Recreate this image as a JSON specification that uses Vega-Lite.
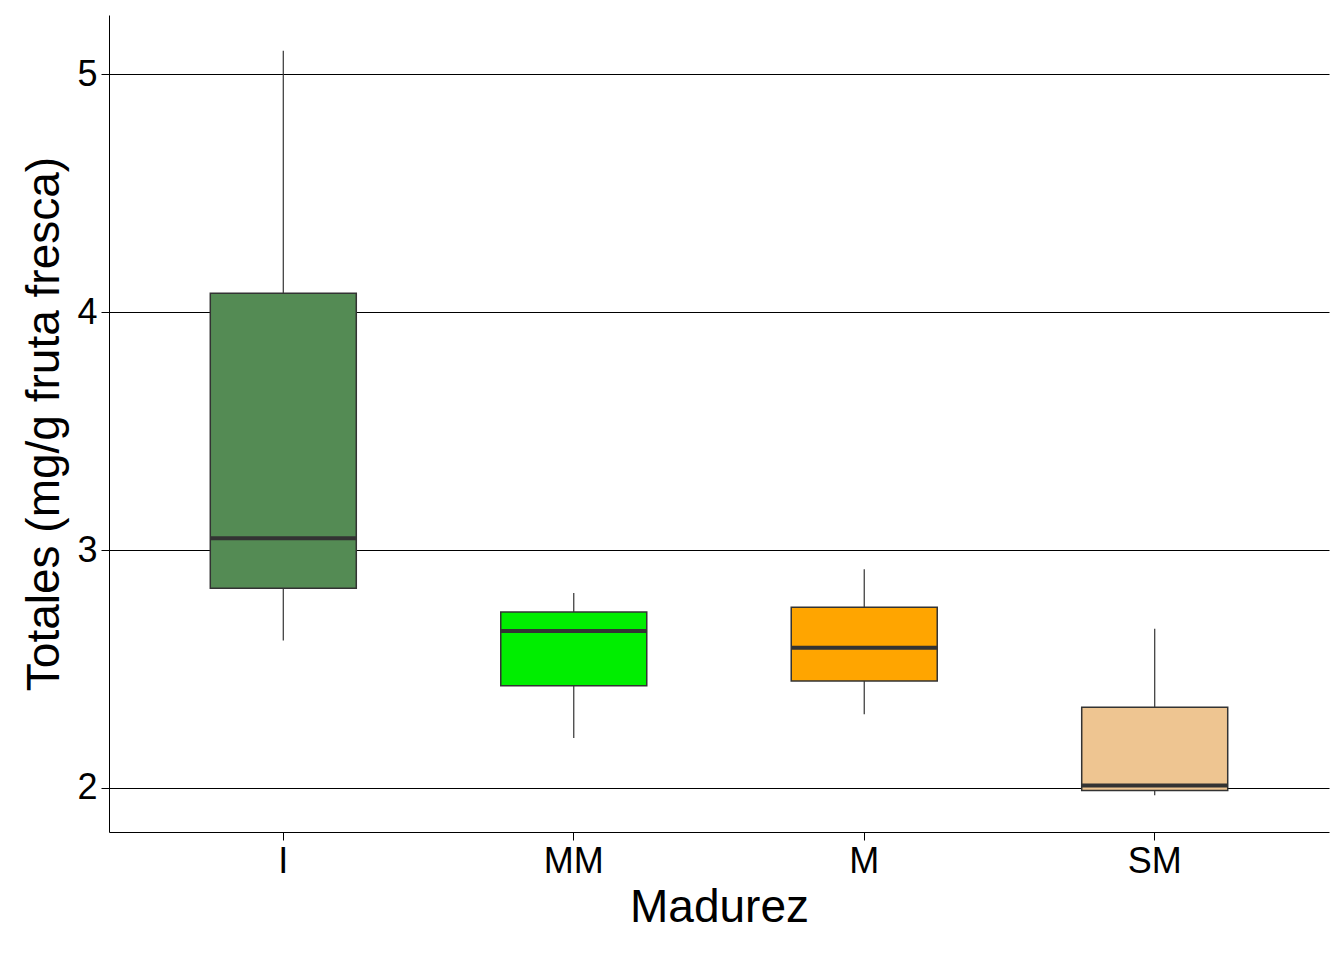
{
  "$schema": "https://vega.github.io/schema/vega-lite/v6.json",
  "width": 1220,
  "height": 817,
  "autosize": {"type": "none"},
  "padding": {"left": 109, "top": 15, "right": 15, "bottom": 128},
  "background": "white",
  "config": {
    "view": {"stroke": null},
    "font": "Liberation Sans",
    "axis": {"domainColor": "black", "tickColor": "black", "labelColor": "black", "titleColor": "black", "titleFontWeight": "normal"}
  },
  "data": {
    "values": [
      {"madurez": "I", "lower": 2.62, "q1": 2.84, "median": 3.05, "q3": 4.08, "upper": 5.10},
      {"madurez": "MM", "lower": 2.21, "q1": 2.43, "median": 2.66, "q3": 2.74, "upper": 2.82},
      {"madurez": "M", "lower": 2.31, "q1": 2.45, "median": 2.59, "q3": 2.76, "upper": 2.92},
      {"madurez": "SM", "lower": 1.97, "q1": 1.99, "median": 2.01, "q3": 2.34, "upper": 2.67}
    ]
  },
  "encoding": {
    "x": {
      "field": "madurez", "type": "nominal", "sort": ["I", "MM", "M", "SM"],
      "scale": {"paddingInner": 0, "paddingOuter": 0.1},
      "title": "Madurez",
      "axis": {"labelAngle": 0, "labelFontSize": 36, "titleFontSize": 46, "tickSize": 8, "labelPadding": 4, "titlePadding": 6}
    }
  },
  "layer": [
    {
      "mark": {"type": "rule", "color": "#333333", "strokeWidth": 1.2},
      "encoding": {
        "y": {
          "field": "lower", "type": "quantitative",
          "scale": {"domain": [1.815, 5.25], "nice": false, "zero": false},
          "title": "Totales (mg/g fruta fresca)",
          "axis": {"values": [2, 3, 4, 5], "format": "d", "grid": true, "gridColor": "black", "gridWidth": 1, "labelFontSize": 36, "titleFontSize": 46, "tickSize": 8, "labelPadding": 4, "titlePadding": 8}
        },
        "y2": {"field": "upper"}
      }
    },
    {
      "mark": {"type": "bar", "size": 146, "stroke": "#333333", "strokeWidth": 1.5},
      "encoding": {
        "y": {"field": "q1", "type": "quantitative"},
        "y2": {"field": "q3"},
        "color": {
          "field": "madurez", "type": "nominal", "legend": null,
          "scale": {"domain": ["I", "MM", "M", "SM"], "range": ["#548B54", "#00EE00", "#FFA500", "#EEC591"]}
        }
      }
    },
    {
      "mark": {"type": "tick", "size": 146, "thickness": 4, "color": "#333333", "opacity": 1},
      "encoding": {"y": {"field": "median", "type": "quantitative"}}
    }
  ]
}
